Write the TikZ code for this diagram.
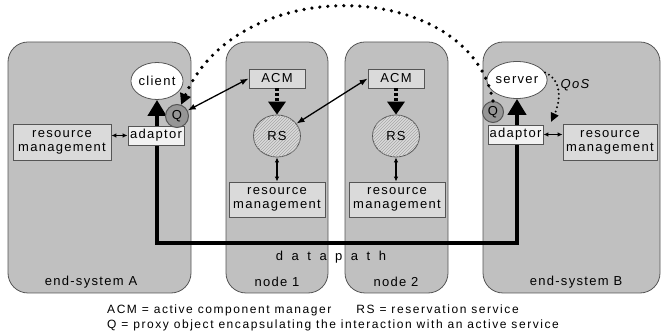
\documentclass[tikz,border=0pt]{standalone}
\usepackage{fontspec}
\setmainfont{Liberation Sans}[LetterSpace=10]
\newfontfamily\legendfont{Liberation Sans}[LetterSpace=13]
\usetikzlibrary{arrows.meta,shapes.geometric,patterns}
\definecolor{sysgray}{RGB}{192,192,192}
\definecolor{boxgray}{RGB}{218,218,218}
\definecolor{adgray}{RGB}{242,242,242}
\definecolor{qgray}{RGB}{150,150,150}
\definecolor{edgec}{RGB}{85,85,85}
\begin{document}
\begin{tikzpicture}[x=1pt,y=-1pt,
  font=\fontsize{13}{14}\selectfont,
  sys/.style={draw=edgec, line width=0.8pt, fill=sysgray, rounded corners=20pt, rectangle, inner sep=0pt},
  rmbox/.style={draw=edgec, line width=0.8pt, fill=boxgray, rectangle, inner sep=0pt, align=center, minimum width=96pt, minimum height=35pt, font=\fontsize{13}{14}\selectfont},
  acmbox/.style={draw=edgec, line width=0.8pt, fill=boxgray, rectangle, inner sep=0pt, minimum width=56pt, minimum height=19pt},
  adbox/.style={draw=edgec, line width=0.8pt, fill=adgray, rectangle, inner sep=0pt, minimum width=56pt, minimum height=19pt},
  ell/.style={draw=edgec, line width=0.8pt, fill=white, ellipse, inner sep=0pt, minimum width=47pt, minimum height=37pt},
  rsell/.style={draw=edgec, line width=0.8pt, fill=boxgray, ellipse, inner sep=0pt, minimum width=47pt, minimum height=42pt,
     postaction={pattern=north east lines, pattern color=gray!70}},
  qnode/.style={draw=edgec, line width=1pt, fill=qgray, circle, inner sep=0pt, minimum size=23pt},
  datapath/.style={line width=4.5pt, line join=miter, {Triangle[length=16pt,width=18pt]}-{Triangle[length=16pt,width=18pt]}},
  thinarrow/.style={line width=1.3pt, {Latex[length=8pt,width=6pt]}-{Latex[length=8pt,width=6pt]}},
  smallarrow/.style={line width=1.2pt, {Latex[length=5pt,width=4.5pt]}-{Latex[length=5pt,width=4.5pt]}},
  dashedarrow/.style={line width=4pt, dash pattern=on 3pt off 2pt, -{Triangle[length=13pt,width=17pt]}},
  dotarrow/.style={line width=3.6pt, line cap=round, dash pattern=on 0pt off 8pt, -{Triangle[length=11pt,width=11pt]}},
  qosarrow/.style={line width=2.2pt, line cap=round, dash pattern=on 0pt off 4.5pt, -{Triangle[length=9pt,width=8pt]}},
  lab/.style={inner sep=0pt},
  legend/.style={inner sep=0pt, anchor=base west, font=\legendfont\fontsize{12}{13}\selectfont}
]
\useasboundingbox (0,0) rectangle (661,336);

% system boxes
\node[sys, minimum width=183pt, minimum height=251pt] (esA) at (99.5,167.5) {};
\node[sys, minimum width=102pt, minimum height=251pt] (n1) at (277,167.5) {};
\node[sys, minimum width=103pt, minimum height=251pt] (n2) at (396.5,167.5) {};
\node[sys, minimum width=177pt, minimum height=251pt] (esB) at (571.5,167.5) {};

\node[lab] (labA) at (91,282) {end-system A};
\node[lab] (lab1) at (277,282) {node 1};
\node[lab] (lab2) at (396,282) {node 2};
\node[lab] (labB) at (576,282) {end-system B};

% datapath
\node[ell] (client) at (157,81) {client};
\node[ell] (server) at (517,80) {server};
\coordinate (dA) at (157,243);
\coordinate (dB) at (517,243);
\draw[datapath] (client.south) -- (dA) -- (dB) -- (server.south);
\node[lab] (dp) at (331,257) {\spaceskip=8.5pt d a t a p a t h};

% end-system A
\node[adbox] (adA) at (156,135.5) {adaptor};
\node[rmbox, minimum width=98pt, minimum height=36pt] (rmA) at (62,142) {resource\\management};
\node[qnode] (qA) at (177,116) {Q};
\draw[smallarrow] (rmA.east |- adA.west) -- (adA.west);

% end-system B
\node[adbox, minimum width=55pt] (adB) at (515.5,134.5) {adaptor};
\node[rmbox, minimum width=94pt, minimum height=36pt] (rmB) at (610,142) {resource\\management};
\node[qnode, minimum size=21pt] (qB) at (493,112) {Q};
\draw[smallarrow] (adB.east) -- (rmB.west |- adB.east);

% node 1
\node[acmbox] (acm1) at (277,78.5) {ACM};
\node[rsell] (rs1) at (277,136) {RS};
\node[rmbox] (rm1) at (277,199.5) {resource\\management};
\draw[dashedarrow] (acm1.south) -- (rs1.north);
\draw[smallarrow] (rs1.south) -- (rm1.north);

% node 2
\node[acmbox] (acm2) at (396,78.5) {ACM};
\node[rsell] (rs2) at (396,136) {RS};
\node[rmbox] (rm2) at (397,199.5) {resource\\management};
\draw[dashedarrow] (acm2.south) -- (rs2.north);
\draw[smallarrow] (rs2.south) -- (rs2.south |- rm2.north);

% interactions
\draw[thinarrow] (qA) -- (acm1.west);
\draw[thinarrow] (rs1) -- (acm2.west);
\draw[dotarrow] (qB.north) .. controls (470,-20) and (240,-30) .. (qA.70);
\coordinate (qosEnd) at (551,122);
\draw[qosarrow] (server.15) .. controls (562,80) and (561,100) .. (qosEnd);
\node[lab] (qos) at (575,85) {\itshape QoS};

% legend
\node[legend] (leg1) at (107,314) {ACM = active component manager\hspace{2.1em}RS = reservation service};
\node[legend] (leg2) at (107,329) {Q = proxy object encapsulating the interaction with an active service};
\end{tikzpicture}
\end{document}
